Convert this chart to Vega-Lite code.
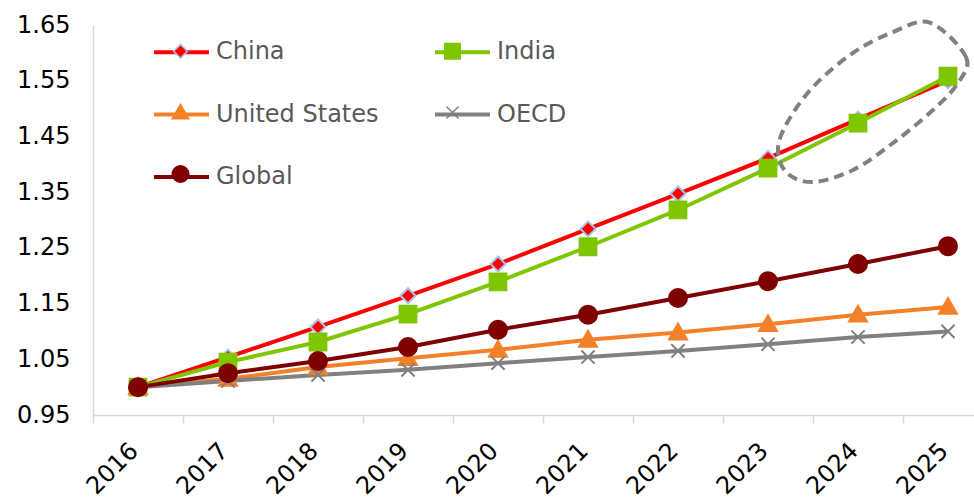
{
  "$schema": "https://vega.github.io/schema/vega-lite/v6.json",
  "autosize": {"type": "none"},
  "padding": {"left": 93, "top": 25, "right": 0, "bottom": 85},
  "width": 881,
  "height": 390,
  "background": "white",
  "config": {
    "view": {"stroke": null},
    "font": "DejaVu Sans",
    "axis": {"grid": false, "labelFont": "DejaVu Sans", "labelFontSize": 24, "labelColor": "#000000", "domainColor": "#d9d9d9", "domainWidth": 1.5, "tickColor": "#d9d9d9", "tickWidth": 1.5, "title": null},
    "legend": {"labelFont": "DejaVu Sans", "labelFontSize": 24, "labelColor": "#595959", "labelLimit": 400, "padding": 0, "orient": "none", "direction": "horizontal", "columns": 2, "symbolSize": 3025, "labelOffset": 5, "columnPadding": 48, "rowPadding": 20.5, "title": null, "legendX": 59, "legendY": -2.5}
  },
  "layer": [
    {
      "data": {"values": [
        {"year": 2016, "series": "China", "v": 1.000},
        {"year": 2017, "series": "China", "v": 1.054},
        {"year": 2018, "series": "China", "v": 1.108},
        {"year": 2019, "series": "China", "v": 1.164},
        {"year": 2020, "series": "China", "v": 1.221},
        {"year": 2021, "series": "China", "v": 1.284},
        {"year": 2022, "series": "China", "v": 1.347},
        {"year": 2023, "series": "China", "v": 1.411},
        {"year": 2024, "series": "China", "v": 1.481},
        {"year": 2025, "series": "China", "v": 1.550},
        {"year": 2016, "series": "India", "v": 1.000},
        {"year": 2017, "series": "India", "v": 1.045},
        {"year": 2018, "series": "India", "v": 1.081},
        {"year": 2019, "series": "India", "v": 1.131},
        {"year": 2020, "series": "India", "v": 1.189},
        {"year": 2021, "series": "India", "v": 1.252},
        {"year": 2022, "series": "India", "v": 1.318},
        {"year": 2023, "series": "India", "v": 1.393},
        {"year": 2024, "series": "India", "v": 1.474},
        {"year": 2025, "series": "India", "v": 1.558},
        {"year": 2016, "series": "United States", "v": 1.000},
        {"year": 2017, "series": "United States", "v": 1.015},
        {"year": 2018, "series": "United States", "v": 1.036},
        {"year": 2019, "series": "United States", "v": 1.052},
        {"year": 2020, "series": "United States", "v": 1.067},
        {"year": 2021, "series": "United States", "v": 1.085},
        {"year": 2022, "series": "United States", "v": 1.098},
        {"year": 2023, "series": "United States", "v": 1.113},
        {"year": 2024, "series": "United States", "v": 1.130},
        {"year": 2025, "series": "United States", "v": 1.144},
        {"year": 2016, "series": "OECD", "v": 1.000},
        {"year": 2017, "series": "OECD", "v": 1.011},
        {"year": 2018, "series": "OECD", "v": 1.022},
        {"year": 2019, "series": "OECD", "v": 1.031},
        {"year": 2020, "series": "OECD", "v": 1.043},
        {"year": 2021, "series": "OECD", "v": 1.054},
        {"year": 2022, "series": "OECD", "v": 1.065},
        {"year": 2023, "series": "OECD", "v": 1.077},
        {"year": 2024, "series": "OECD", "v": 1.090},
        {"year": 2025, "series": "OECD", "v": 1.100},
        {"year": 2016, "series": "Global", "v": 1.000},
        {"year": 2017, "series": "Global", "v": 1.025},
        {"year": 2018, "series": "Global", "v": 1.047},
        {"year": 2019, "series": "Global", "v": 1.072},
        {"year": 2020, "series": "Global", "v": 1.103},
        {"year": 2021, "series": "Global", "v": 1.130},
        {"year": 2022, "series": "Global", "v": 1.160},
        {"year": 2023, "series": "Global", "v": 1.190},
        {"year": 2024, "series": "Global", "v": 1.221},
        {"year": 2025, "series": "Global", "v": 1.253}
      ]},
      "layer": [
        {
          "mark": {"type": "line", "strokeWidth": 4},
          "encoding": {
            "x": {"field": "year", "type": "quantitative", "scale": {"domain": [2015.5, 2025.2889], "nice": false, "zero": false},
              "axis": {"values": [2015.5, 2016, 2016.5, 2017, 2017.5, 2018, 2018.5, 2019, 2019.5, 2020, 2020.5, 2021, 2021.5, 2022, 2022.5, 2023, 2023.5, 2024, 2024.5, 2025],
                "labelExpr": "datum.value % 1 === 0 ? '' + datum.value : ''",
                "tickOpacity": {"condition": {"test": "datum.value % 1 === 0", "value": 0}, "value": 1},
                "tickSize": 8, "labelAngle": -45, "labelAlign": "right", "labelBaseline": "middle", "labelOffset": -4, "labelOverlap": false, "labelFlush": false, "labelPadding": 24}},
            "y": {"field": "v", "type": "quantitative", "scale": {"domain": [0.95, 1.65], "nice": false, "zero": false},
              "axis": {"values": [0.95, 1.05, 1.15, 1.25, 1.35, 1.45, 1.55, 1.65], "format": ".2f", "ticks": false, "labelPadding": 23}},
            "color": {"field": "series", "type": "nominal",
              "scale": {"domain": ["China", "India", "United States", "OECD", "Global"], "range": ["#FF0000", "#7FC600", "#F4812A", "#808080", "#7F0000"]},
              "legend": {"symbolType": "stroke", "symbolStrokeWidth": 4}}
          }
        },
        {
          "mark": {"type": "point", "filled": true, "opacity": 1, "strokeWidth": 2, "size": 3600},
          "encoding": {
            "x": {"field": "year", "type": "quantitative"},
            "y": {"field": "v", "type": "quantitative"},
            "fill": {"field": "series", "type": "nominal", "sort": null,
              "scale": {"range": ["#FF0000", "#7FC600", "#F4812A", "#808080", "#7F0000"]},
              "legend": {"labelExpr": "''", "columnPadding": 210}},
            "stroke": {"field": "series", "type": "nominal", "sort": null,
              "scale": {"range": ["#A9C4EB", "#7FC600", "#F4812A", "#808080", "#7F0000"]},
              "legend": {"labelExpr": "''", "columnPadding": 210}},
            "shape": {"field": "series", "type": "nominal", "sort": null,
              "scale": {"range": [
                "M0,-0.25L0.25,0L0,0.25L-0.25,0Z",
                "M-0.28,-0.28H0.28V0.28H-0.28Z",
                "M0,-0.3L0.3,0.23L-0.3,0.23Z",
                "M-0.22,-0.22L0.22,0.22M-0.22,0.22L0.22,-0.22",
                "M0.3,0A0.3,0.3,0,1,1,-0.3,0A0.3,0.3,0,1,1,0.3,0Z"
              ]},
              "legend": {"labelExpr": "''", "columnPadding": 210}}
          }
        }
      ]
    },
    {
      "data": {"values": [
        {"i": 1, "x": 2024.8, "y": 1.6541},
        {"i": 2, "x": 2025.2, "y": 1.5926},
        {"i": 3, "x": 2025.111, "y": 1.5459},
        {"i": 4, "x": 2024.833, "y": 1.4974},
        {"i": 5, "x": 2024.389, "y": 1.4382},
        {"i": 6, "x": 2023.944, "y": 1.3897},
        {"i": 7, "x": 2023.5, "y": 1.3682},
        {"i": 8, "x": 2023.211, "y": 1.3844},
        {"i": 9, "x": 2023.111, "y": 1.4256},
        {"i": 10, "x": 2023.211, "y": 1.4741},
        {"i": 11, "x": 2023.5, "y": 1.5387},
        {"i": 12, "x": 2023.944, "y": 1.6},
        {"i": 13, "x": 2024.389, "y": 1.6374}
      ]},
      "mark": {"type": "line", "interpolate": "cardinal-closed", "stroke": "#808080", "strokeWidth": 4, "strokeDash": [10, 6]},
      "encoding": {
        "x": {"field": "x", "type": "quantitative"},
        "y": {"field": "y", "type": "quantitative"},
        "order": {"field": "i", "type": "quantitative"}
      }
    }
  ]
}
